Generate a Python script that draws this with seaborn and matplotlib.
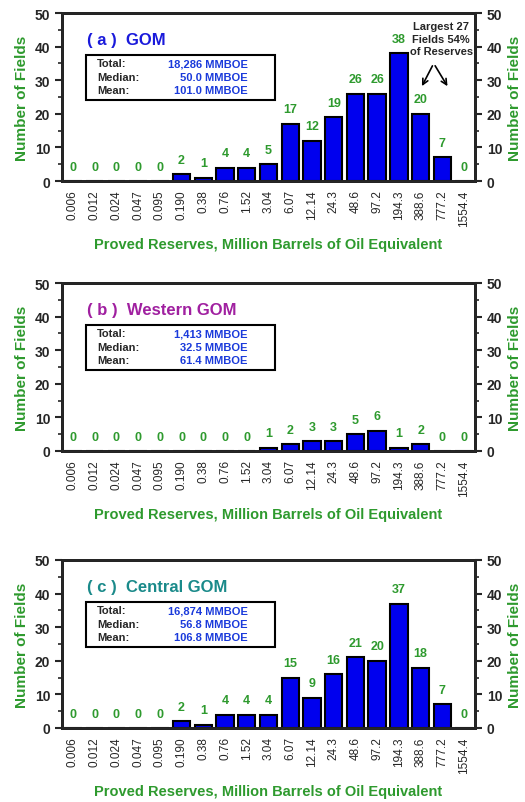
import matplotlib
matplotlib.use("Agg")
import matplotlib.pyplot as plt
import seaborn as sns
import pandas as pd
from matplotlib.ticker import MultipleLocator

categories = ["0.006","0.012","0.024","0.047","0.095","0.190","0.38","0.76","1.52","3.04",
              "6.07","12.14","24.3","48.6","97.2","194.3","388.6","777.2","1554.4"]
gom = [0,0,0,0,0,2,1,4,4,5,17,12,19,26,26,38,20,7,0]
western = [0,0,0,0,0,0,0,0,0,1,2,3,3,5,6,1,2,0,0]
central = [0,0,0,0,0,2,1,4,4,4,15,9,16,21,20,37,18,7,0]

titles = ["( a )  GOM", "( b )  Western GOM", "( c )  Central GOM"]
title_colors = ["#1a1adb", "#a020a0", "#1a8a8a"]
stats = [("18,286 MMBOE", "50.0 MMBOE", "101.0 MMBOE"),
         ("1,413 MMBOE", "32.5 MMBOE", "61.4 MMBOE"),
         ("16,874 MMBOE", "56.8 MMBOE", "106.8 MMBOE")]
green = "#2e9a2e"

sns.set_style("white")
plt.rcParams['font.family'] = ['Liberation Sans', 'DejaVu Sans']

fig = plt.figure(figsize=(5.25, 8.03), dpi=100)
tops = [14, 284, 561]
H = 803.0; W = 525.0
for i, (vals, t) in enumerate(zip([gom, western, central], tops)):
    ax = fig.add_axes([62/W, 1-(t+168)/H, 413/W, 168/H])
    df = pd.DataFrame({"cat": categories, "n": vals})
    sns.barplot(data=df, x="cat", y="n", ax=ax, color="#0000ee", edgecolor="black",
                linewidth=1.5, width=0.8, saturation=1)
    ax.set_xlim(-0.5, len(categories)-0.5)
    ax.set_ylim(0, 50)
    ax.yaxis.set_major_locator(MultipleLocator(10))
    ax.yaxis.set_minor_locator(MultipleLocator(5))
    for s in ax.spines.values():
        s.set_linewidth(2); s.set_color("black")
    ax.tick_params(axis='y', which='major', length=5, width=1.5, labelsize=10, direction='out')
    ax.tick_params(axis='y', which='minor', length=3, width=1.2, direction='out')
    ax.tick_params(axis='x', length=0, labelsize=8.5, pad=6)
    for lbl in ax.get_yticklabels():
        lbl.set_fontweight('bold')
    ax.set_xticks(range(len(categories)))
    ax.set_xticklabels(categories, rotation=90)
    ax.set_ylabel("Number of Fields", color=green, fontsize=11, fontweight='bold')
    ax.set_xlabel("Proved Reserves, Million Barrels of Oil Equivalent", color=green,
                  fontsize=10.5, fontweight='bold', labelpad=8)
    ax2 = ax.twinx()
    ax2.set_ylim(0, 50)
    ax2.yaxis.set_major_locator(MultipleLocator(10))
    ax2.yaxis.set_minor_locator(MultipleLocator(5))
    ax2.tick_params(axis='y', which='major', length=5, width=1.5, labelsize=10)
    ax2.tick_params(axis='y', which='minor', length=3, width=1.2)
    for lbl in ax2.get_yticklabels():
        lbl.set_fontweight('bold')
    ax2.set_ylabel("Number of Fields", color=green, fontsize=11, fontweight='bold')
    for s in ax2.spines.values():
        s.set_linewidth(2)
    for x, v in enumerate(vals):
        ax.text(x, v + 2.5, str(v), ha='center', va='bottom', color=green,
                fontsize=9, fontweight='bold')
    ax.text(0.06, 0.84, titles[i], transform=ax.transAxes, color=title_colors[i],
            fontsize=12, fontweight='bold', va='center')
    # stats box
    ax.add_patch(plt.Rectangle((0.058, 0.485), 0.458, 0.265, transform=ax.transAxes,
                               fill=False, edgecolor='black', linewidth=1.5))
    for j, (lab, val) in enumerate(zip(["Total:", "Median:", "Mean:"], stats[i])):
        y = 0.70 - j*0.08
        ax.text(0.085, y, lab, transform=ax.transAxes, fontsize=8, fontweight='bold', va='center')
        ax.text(0.45, y, val, transform=ax.transAxes, fontsize=8, fontweight='bold',
                va='center', ha='right', color="#1a3adb")
    if i == 0:
        ax.text(16.95, 47.5, "Largest 27\nFields 54%\nof Reserves", ha='center', va='top',
                fontsize=8, fontweight='bold', linespacing=1.3)
        ax.annotate("", xy=(16.0, 27.5), xytext=(16.6, 35),
                    arrowprops=dict(arrowstyle='->', lw=1.2, color='black'))
        ax.annotate("", xy=(17.3, 27.5), xytext=(16.6, 35),
                    arrowprops=dict(arrowstyle='->', lw=1.2, color='black'))

fig.savefig("out.png", dpi=100)
